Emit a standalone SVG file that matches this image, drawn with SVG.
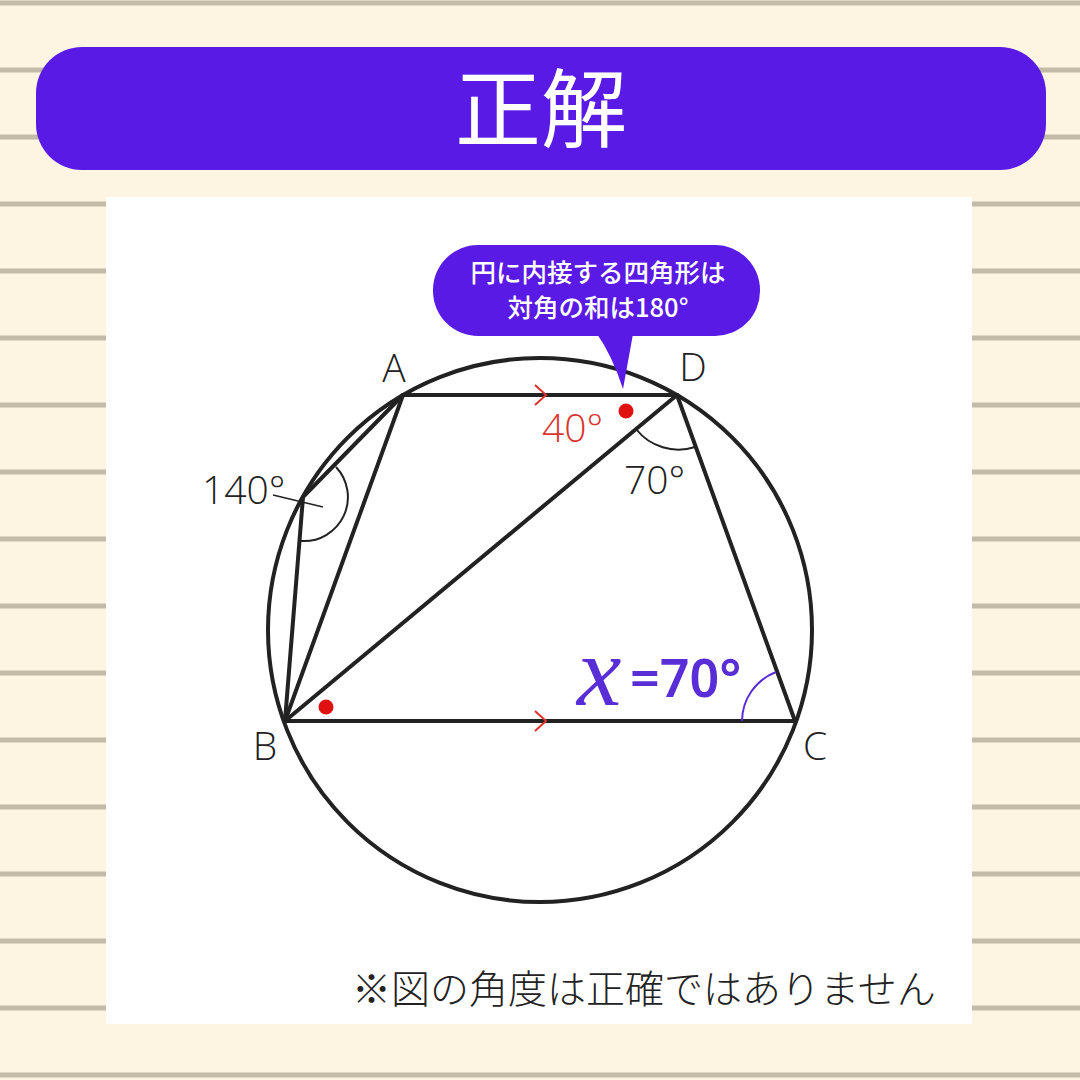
<svg xmlns="http://www.w3.org/2000/svg" width="1080" height="1080" viewBox="0 0 1080 1080">
<style>
.rule{stroke:#c3bba7;stroke-width:5}
.edge{stroke:#222;stroke-width:4;fill:none;stroke-linecap:round}
.lbl{font-family:"Open Sans","Noto Sans",sans-serif;font-weight:300;font-size:39px;fill:#222}
.red{fill:#d9352e}
.chev{stroke:#d9352e;stroke-width:2;fill:none}
.ctext{font-family:"Noto Sans CJK JP",sans-serif;font-weight:500;font-size:25.5px;fill:#fff}
</style>
<rect width="1080" height="1080" fill="#fdf5e1"/>
<g id="rules">
<line class="rule" x1="0" y1="3" x2="1080" y2="3"/>
<line class="rule" x1="0" y1="70" x2="1080" y2="70"/>
<line class="rule" x1="0" y1="137" x2="1080" y2="137"/>
<line class="rule" x1="0" y1="204" x2="1080" y2="204"/>
<line class="rule" x1="0" y1="271" x2="1080" y2="271"/>
<line class="rule" x1="0" y1="338" x2="1080" y2="338"/>
<line class="rule" x1="0" y1="405" x2="1080" y2="405"/>
<line class="rule" x1="0" y1="472" x2="1080" y2="472"/>
<line class="rule" x1="0" y1="539" x2="1080" y2="539"/>
<line class="rule" x1="0" y1="606" x2="1080" y2="606"/>
<line class="rule" x1="0" y1="673" x2="1080" y2="673"/>
<line class="rule" x1="0" y1="740" x2="1080" y2="740"/>
<line class="rule" x1="0" y1="807" x2="1080" y2="807"/>
<line class="rule" x1="0" y1="874" x2="1080" y2="874"/>
<line class="rule" x1="0" y1="941" x2="1080" y2="941"/>
<line class="rule" x1="0" y1="1008" x2="1080" y2="1008"/>
<line class="rule" x1="0" y1="1075" x2="1080" y2="1075"/>
</g>
<g id="header">
<rect x="36" y="47" width="1010" height="123" rx="46" fill="#5a1ae6"/>
<text x="541" y="141" text-anchor="middle" font-family="Noto Sans CJK JP,sans-serif" font-size="86" fill="#fff">正解</text>
</g>
<rect id="panel" x="106" y="197" width="866" height="827" fill="#fff"/>
<g id="circle"><circle cx="540" cy="630" r="272" fill="none" stroke="#222" stroke-width="4"/></g>
<g id="connectors">
<line class="edge" x1="403" y1="395" x2="677" y2="395"/>
<line class="edge" x1="677" y1="395" x2="795" y2="721"/>
<line class="edge" x1="285" y1="721" x2="795" y2="721"/>
<line class="edge" x1="285" y1="721" x2="403" y2="395"/>
<line class="edge" x1="285" y1="721" x2="677" y2="395"/>
<line class="edge" x1="285" y1="721" x2="303" y2="497"/>
<line class="edge" x1="303" y1="497" x2="403" y2="395"/>
<polyline class="chev" points="535,385 546,395 535,405"/>
<polyline class="chev" points="535,711 546,721 535,731"/>
<path d="M636,429 A54,54 0 0 0 695,447" fill="none" stroke="#222" stroke-width="2"/>
<path d="M336,467 A44,44 0 0 1 301,541" fill="none" stroke="#222" stroke-width="2"/>
<line x1="273" y1="495" x2="323" y2="507" stroke="#222" stroke-width="1.5"/>
<path d="M742,721 A53,53 0 0 1 776,672" fill="none" stroke="#5a2ed6" stroke-width="2"/>
<circle cx="626" cy="411" r="7.5" fill="#e01010"/>
<circle cx="326" cy="707" r="7.5" fill="#e01010"/>
</g>
<g id="A"><text class="lbl" x="394" y="382" text-anchor="middle">A</text></g>
<g id="D"><text class="lbl" x="693" y="381" text-anchor="middle">D</text></g>
<g id="B"><text class="lbl" x="265" y="760" text-anchor="middle">B</text></g>
<g id="C"><text class="lbl" x="815" y="760" text-anchor="middle">C</text></g>
<g id="E"><text class="lbl" x="202" y="504">140°</text></g>
<g id="angle40"><text class="lbl red" x="542" y="442">40°</text></g>
<g id="angle70"><text class="lbl" x="624" y="494">70°</text></g>
<g id="answer">
<text x="577" y="705" font-family="Liberation Serif,serif" font-style="italic" font-size="100" fill="#5a2ed6">x</text>
<text x="630" y="697" font-family="Noto Sans,sans-serif" font-weight="600" font-size="52" fill="#5a2ed6">=70°</text>
</g>
<g id="callout">
<rect x="433" y="245" width="327" height="91" rx="45" fill="#5a1ae6"/>
<path d="M597,334 Q612,355 623,389 L633,334 Z" fill="#5a1ae6"/>
<text class="ctext" x="598" y="282" text-anchor="middle">円に内接する四角形は</text>
<text class="ctext" x="598" y="317" text-anchor="middle">対角の和は180°</text>
</g>
<g id="note"><text x="352" y="1003" font-family="Noto Sans CJK JP,sans-serif" font-weight="300" font-size="39" fill="#222">※図の角度は正確ではありません</text></g>
</svg>
